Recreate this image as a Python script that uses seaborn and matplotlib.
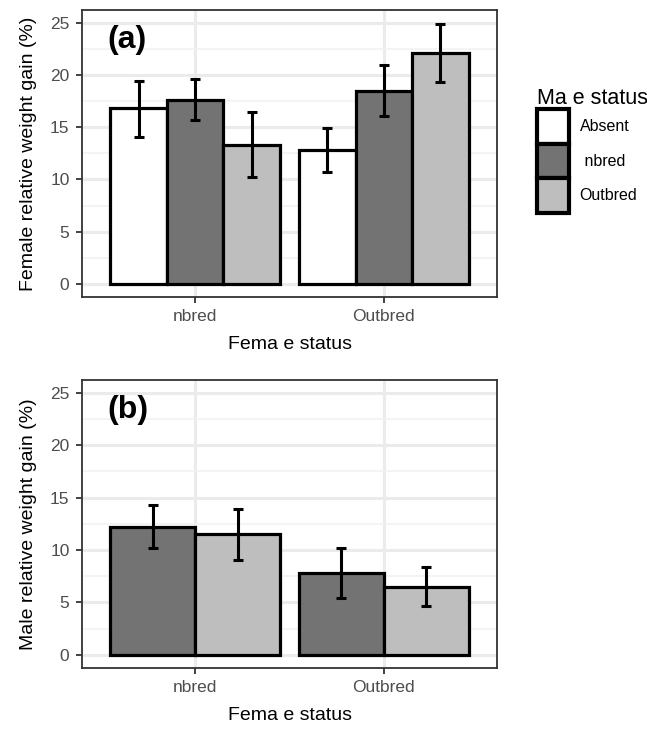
import numpy as np
import pandas as pd
import seaborn as sns
import matplotlib.pyplot as plt
from matplotlib.patches import Patch
from matplotlib.ticker import MultipleLocator

# data
female = ["nbred", "Outbred"]
male_a = ["Absent", "nbred", "Outbred"]
gain_a = [[16.8, 17.6, 13.3], [12.8, 18.5, 22.1]]
lo_a = [[14.1, 15.7, 10.2], [10.7, 16.1, 19.3]]
hi_a = [[19.4, 19.6, 16.4], [14.9, 20.9, 24.9]]

male_b = ["nbred", "Outbred"]
gain_b = [[12.2, 11.5], [7.8, 6.5]]
lo_b = [[10.2, 9.0], [5.4, 4.7]]
hi_b = [[14.3, 13.9], [10.2, 8.4]]

colors = {"Absent": "#FFFFFF", "nbred": "#737373", "Outbred": "#BEBEBE"}

plt.rcParams["font.family"] = ["Liberation Sans", "DejaVu Sans"]


def make_df(males, gain, lo, hi):
    rows = []
    for i, f in enumerate(female):
        for j, m in enumerate(males):
            rows.append(dict(female=f, male=m, gain=gain[i][j], lo=lo[i][j], hi=hi[i][j]))
    return pd.DataFrame(rows)


def panel(ax, males, gain, lo, hi, ylab, tag):
    df = make_df(males, gain, lo, hi)
    sns.barplot(data=df, x="female", y="gain", hue="male", order=female,
                hue_order=males, palette=colors, width=0.9, edgecolor="black",
                linewidth=2.3, saturation=1, errorbar=None, legend=False, ax=ax)
    for m, cont in zip(males, ax.containers):
        for f, bar in zip(female, cont):
            r = df[(df.female == f) & (df.male == m)].iloc[0]
            xc = bar.get_x() + bar.get_width() / 2
            ax.errorbar(xc, r.gain, yerr=[[r.gain - r.lo], [r.hi - r.gain]],
                        fmt="none", ecolor="black", elinewidth=2.2,
                        capsize=3.3, capthick=2.2, zorder=5)
    ax.set_xlim(-0.6, 1.6)
    ax.set_ylim(-1.25, 26.2)
    ax.set_yticks([0, 5, 10, 15, 20, 25])
    ax.yaxis.set_minor_locator(MultipleLocator(2.5))
    ax.set_axisbelow(True)
    ax.grid(which="major", color="#EBEBEB", lw=2.2)
    ax.grid(which="minor", axis="y", color="#F2F2F2", lw=1.2)
    ax.tick_params(which="minor", length=0)
    ax.tick_params(which="major", length=4, width=1.3, color="#333333",
                   labelcolor="#4D4D4D", labelsize=12.5, pad=5)
    for s in ax.spines.values():
        s.set_color("#333333")
        s.set_linewidth(1.3)
    ax.set_xlabel("Fema e status", fontsize=14, labelpad=8)
    ax.set_ylabel(ylab, fontsize=14, labelpad=9)
    ax.text(0.062, 0.895, tag, transform=ax.transAxes, fontsize=23,
            fontweight="bold", va="center", ha="left")


fig = plt.figure(figsize=(6.47, 7.3), dpi=100)
ax1 = fig.add_axes([82 / 647, 1 - 297 / 730, 415 / 647, 287 / 730])
ax2 = fig.add_axes([82 / 647, 1 - 668 / 730, 415 / 647, 288 / 730])

panel(ax1, male_a, gain_a, lo_a, hi_a, "Female relative weight gain (%)", "(a)")
panel(ax2, male_b, gain_b, lo_b, hi_b, "Male relative weight gain (%)", "(b)")

handles = [Patch(facecolor=colors[m], edgecolor="black", linewidth=3) for m in male_a]
leg = fig.legend(handles, ["Absent", " nbred", "Outbred"], title="Ma e status",
                 loc="upper left", bbox_to_anchor=(531 / 647, 1 - 82 / 730),
                 frameon=False, fontsize=11.5, title_fontsize=15.5,
                 handlelength=1.95, handleheight=2.95, labelspacing=0.0,
                 handletextpad=0.7, borderaxespad=0)
leg._legend_box.align = "left"

fig.savefig("out.png", dpi=100)
